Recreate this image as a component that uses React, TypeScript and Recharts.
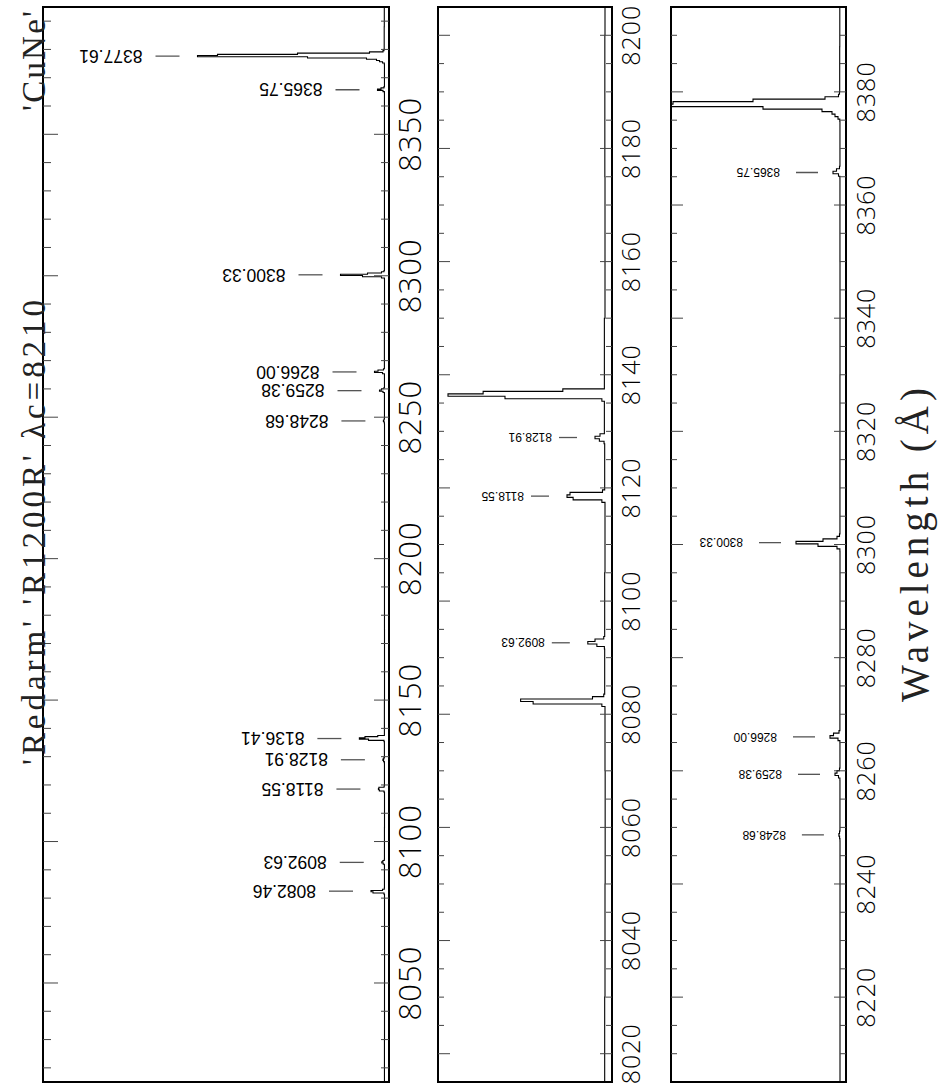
import React from 'react'
import { ComposedChart, Line, Scatter, XAxis, YAxis, ReferenceArea } from 'recharts'

// arc spectrum, wavelength (A) and counts, stepwise as sampled by the detector
const WAVE = [
  8010, 8030, 8050, 8070,
  8081.36, 8081.8, 8082.24, 8082.68, 8083.12, 8083.56,
  8091.53, 8091.97, 8092.41, 8092.85, 8093.29, 8093.73,
  8105,
  8117.45, 8117.89, 8118.33, 8118.77, 8119.21, 8119.65,
  8127.81, 8128.25, 8128.69, 8129.13, 8129.57,
  8134.87, 8135.31, 8135.75, 8136.19, 8136.63, 8137.07, 8137.51,
  8150, 8175, 8200, 8225,
  8247.58, 8248.02, 8248.46, 8248.9, 8249.34,
  8258.28, 8258.72, 8259.16, 8259.6, 8260.04, 8260.48,
  8264.9, 8265.34, 8265.78, 8266.22, 8266.66, 8267.1,
  8280,
  8298.79, 8299.23, 8299.67, 8300.11, 8300.55, 8300.99, 8301.43, 8301.87,
  8330, 8350,
  8364.65, 8365.09, 8365.53, 8365.97, 8366.41, 8366.85,
  8374.75, 8375.19, 8375.63, 8376.07, 8376.51, 8376.95, 8377.39, 8377.83, 8378.27, 8378.71, 8379.15, 8379.59, 8380.03,
  8388, 8400,
]
const FLUX = [
  610, 600, 595, 600,
  700, 2900, 3300, 1000, 640, 610,
  620, 860, 1150, 920, 640, 610,
  600,
  700, 1620, 1816, 1720, 680, 610,
  630, 780, 920, 760, 620,
  620, 700, 3800, 5624, 4500, 1950, 620,
  600, 605, 600, 600,
  610, 680, 820, 690, 610,
  620, 900, 1600, 1200, 700, 610,
  620, 1000, 2600, 1900, 800, 620,
  600,
  620, 1200, 5000, 9400, 4000, 1200, 700, 610,
  600, 610,
  620, 900, 2000, 1300, 700, 610,
  640, 1000, 1600, 2200, 4200, 16000, 38000, 34000, 18000, 3600, 900, 700, 660,
  640, 620,
]

// identified lines
const LINE_WAVE = [8082.46, 8092.63, 8118.55, 8128.91, 8136.41, 8248.68, 8259.38, 8266.0, 8300.33, 8365.75, 8377.61]
const LINE_TEXT = ['8082.46', '8092.63', '8118.55', '8128.91', '8136.41', '8248.68', '8259.38', '8266.00', '8300.33', '8365.75', '8377.61']
const LINE_PEAK = [3300, 1150, 1816, 920, 5624, 820, 1600, 2600, 9400, 2000, 38000]

const P2_LABELLED = ['8092.63', '8118.55', '8128.91']
const P3_LABELLED = ['8248.68', '8259.38', '8266.00', '8300.33', '8365.75']

const P1_TICKS = [8050, 8100, 8150, 8200, 8250, 8300, 8350]
const P2_TICKS = [8020, 8040, 8060, 8080, 8100, 8120, 8140, 8160, 8180, 8200]
const P3_TICKS = [8220, 8240, 8260, 8280, 8300, 8320, 8340, 8360, 8380]

const spectrum = WAVE.map((w, i) => ({ w, f: FLUX[i] }))
const lines = LINE_WAVE.map((w, i) => ({ w, f: LINE_PEAK[i], text: LINE_TEXT[i] }))

const W = 1089
const H = 942
const M_TOP = 5

const PANELS = [
  {
    top: 43, plotH: 346, axisH: 45, xDomain: [8015, 8395], yDomain: [-300, 68900],
    major: P1_TICKS, minorStep: 10, majorLen: 15, minorLen: 8, tickFont: 31, tickGap: 32,
    lineFont: 17.5, dash: [18, 42], textOff: 55, labels: LINE_TEXT,
  },
  {
    top: 438, plotH: 174, axisH: 40, xDomain: [8015, 8205], yDomain: [376, 5944],
    major: P2_TICKS, minorStep: 5, majorLen: 12, minorLen: 6, tickFont: 25, tickGap: 28,
    lineFont: 12, dash: [18, 36], textOff: 43, labels: P2_LABELLED,
  },
  {
    top: 671, plotH: 175, axisH: 40, xDomain: [8205, 8395], yDomain: [-600, 34400],
    major: P3_TICKS, minorStep: 5, majorLen: 12, minorLen: 6, tickFont: 25, tickGap: 29,
    lineFont: 12, dash: [15, 37], textOff: 53, labels: P3_LABELLED,
  },
]

function Panel({ cfg }: { cfg: any }) {
  const height = M_TOP + cfg.plotH + cfg.axisH
  const plotTop = M_TOP
  const plotBottom = M_TOP + cfg.plotH
  const [lo, hi] = cfg.xDomain

  const ticks: number[] = []
  for (let v = Math.ceil(lo / cfg.minorStep) * cfg.minorStep; v < hi; v += cfg.minorStep) {
    if (v > lo) ticks.push(v)
  }

  const labelData = lines.filter(l => cfg.labels.includes(l.text) && l.w > lo && l.w < hi)

  const renderTick = (props: any) => {
    const { x, payload } = props
    const isMajor = cfg.major.includes(payload.value)
    const len = isMajor ? cfg.majorLen : cfg.minorLen
    return (
      <g>
        <line x1={x} x2={x} y1={plotTop} y2={plotTop + len} stroke="#444" strokeWidth={1} />
        <line x1={x} x2={x} y1={plotBottom} y2={plotBottom - len} stroke="#444" strokeWidth={1} />
        {isMajor && (
          <text x={x} y={plotBottom + cfg.tickGap} textAnchor="middle" fontSize={cfg.tickFont}
            fontFamily="'Open Sans', sans-serif" fontWeight={300} letterSpacing={1} fill="#000">
            {payload.value}
          </text>
        )}
      </g>
    )
  }

  const renderLabel = (props: any) => {
    const { cx, cy } = props
    const text = props.payload?.text ?? props.text
    const tx = cx + cfg.lineFont * 0.36
    const ty = cy - cfg.textOff
    return (
      <g>
        <line x1={cx} x2={cx} y1={cy - cfg.dash[0]} y2={cy - cfg.dash[1]} stroke="#555" strokeWidth={1.3} />
        <text x={tx} y={ty} transform={`rotate(-90, ${tx}, ${ty})`} fontSize={cfg.lineFont}
          fontFamily="'Liberation Sans', Arial, sans-serif" fill="#000">
          {text}
        </text>
      </g>
    )
  }

  return (
    <div style={{ position: 'absolute', left: 0, top: cfg.top - M_TOP, width: W, height }}>
      <ComposedChart width={W} height={height} data={spectrum} margin={{ top: M_TOP, right: 7, bottom: 0, left: 7 }}>
        <XAxis
          type="number"
          dataKey="w"
          domain={cfg.xDomain}
          allowDataOverflow
          ticks={ticks}
          interval={0}
          height={cfg.axisH}
          axisLine={false}
          tickLine={false}
          tick={renderTick}
        />
        <YAxis type="number" domain={cfg.yDomain} allowDataOverflow hide />
        <ReferenceArea
          x1={lo}
          x2={hi}
          y1={cfg.yDomain[0]}
          y2={cfg.yDomain[1]}
          fill="none"
          fillOpacity={0}
          stroke="#000"
          strokeWidth={2}
          ifOverflow="visible"
        />
        <Line dataKey="f" type="stepAfter" stroke="#000" strokeWidth={1.1} dot={false} isAnimationActive={false} />
        <Scatter data={labelData} dataKey="f" shape={renderLabel} isAnimationActive={false} />
      </ComposedChart>
    </div>
  )
}

export default function App() {
  return (
    <div style={{ position: 'absolute', left: 0, top: 0, width: H, height: W, overflow: 'hidden', background: '#fff' }}>
      {/* the plot is laid out landscape and turned a quarter counter-clockwise */}
      <div
        style={{
          position: 'absolute', left: 0, top: 0, width: W, height: H,
          transformOrigin: '0 0', transform: `translateY(${W}px) rotate(-90deg)`,
        }}
      >
        {PANELS.map((p, i) => <Panel key={i} cfg={p} />)}
        <svg width={W} height={H} style={{ position: 'absolute', left: 0, top: 0, pointerEvents: 'none' }}>
          <text x={324} y={45} fontSize={33} fontFamily="'Liberation Serif', serif" fontWeight={400}
            textLength={465} lengthAdjust="spacing" fill="#222">
            'Redarm' 'R1200R' λc=8210
          </text>
          <text x={1078} y={45} fontSize={33} fontFamily="'Liberation Serif', serif" fontWeight={400}
            textAnchor="end" textLength={100} lengthAdjust="spacing" fill="#222">
            'CuNe'
          </text>
          <text x={544} y={928} fontSize={39} fontFamily="'Liberation Serif', serif" fontWeight={400}
            textAnchor="middle" textLength={314} lengthAdjust="spacing" fill="#222">
            Wavelength (Å)
          </text>
        </svg>
      </div>
    </div>
  )
}
